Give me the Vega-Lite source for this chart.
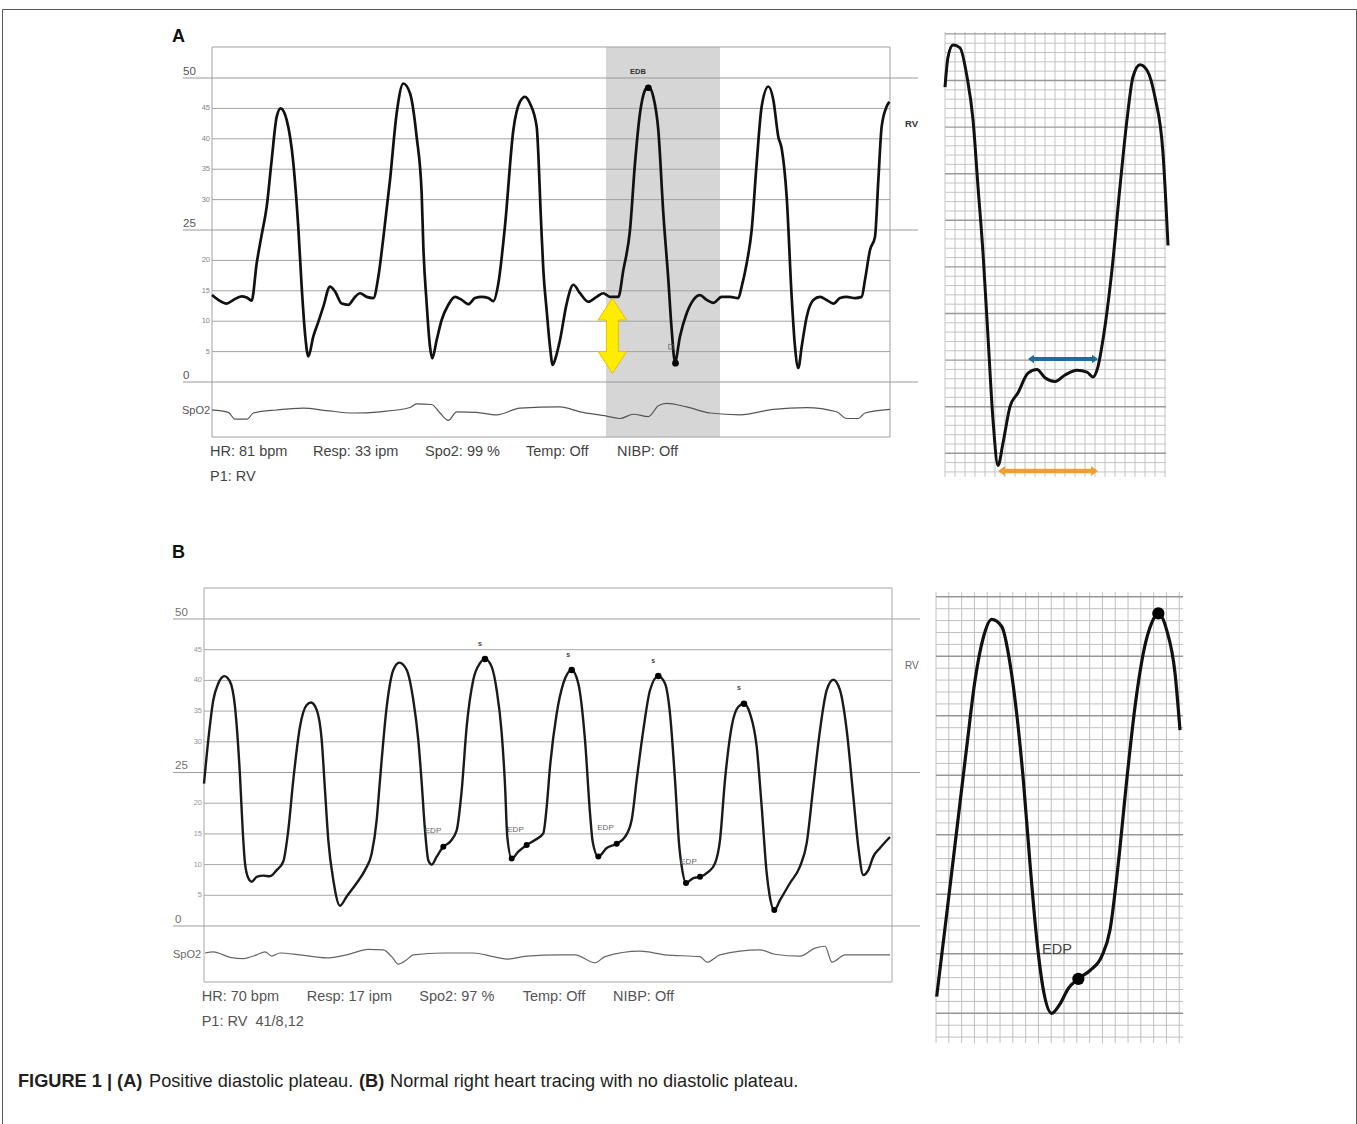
{
"$schema": "https://vega.github.io/schema/vega-lite/v6.json",
"width": 1357, "height": 1124,
"autosize": {"type": "fit", "contains": "padding"},
"padding": {"left": 2, "top": 9, "right": 1, "bottom": 0},
"background": "#ffffff",
"config": {"view": {"stroke": "#5a5a5a", "strokeWidth": 1}, "font": "Liberation Sans", "text": {"baseline": "middle"}},
"datasets": {
"a_minor": [{"mmHg":5,"start_ms":0,"end_ms":4068},{"mmHg":10,"start_ms":0,"end_ms":4068},{"mmHg":15,"start_ms":0,"end_ms":4068},{"mmHg":20,"start_ms":0,"end_ms":4068},{"mmHg":30,"start_ms":0,"end_ms":4068},{"mmHg":35,"start_ms":0,"end_ms":4068},{"mmHg":40,"start_ms":0,"end_ms":4068},{"mmHg":45,"start_ms":0,"end_ms":4068}],
"a_major": [{"mmHg":0,"start_ms":-174,"end_ms":4236},{"mmHg":25,"start_ms":-174,"end_ms":4236},{"mmHg":50,"start_ms":-174,"end_ms":4236}],
"a_frame": [{"start_ms":0,"end_ms":4068,"low_mmHg":-9.05,"high_mmHg":55.1}],
"a_band": [{"start_ms":2364,"end_ms":3048,"low_mmHg":-9.05,"high_mmHg":55.1}],
"a_trace": [
{"time_ms":0,"mmHg":14.3},{"time_ms":38,"mmHg":13.5},{"time_ms":88,"mmHg":12.9},{"time_ms":128,"mmHg":13.5},{"time_ms":178,"mmHg":14.1},{"time_ms":208,"mmHg":13.9},{"time_ms":238,"mmHg":13.4},{"time_ms":268,"mmHg":19.5},{"time_ms":298,"mmHg":24.2},{"time_ms":328,"mmHg":28.8},{"time_ms":358,"mmHg":36.5},{"time_ms":388,"mmHg":43.6},{"time_ms":412,"mmHg":45.0},{"time_ms":448,"mmHg":43.1},{"time_ms":488,"mmHg":36.0},{"time_ms":518,"mmHg":25.3},{"time_ms":538,"mmHg":15.7},{"time_ms":558,"mmHg":8.0},{"time_ms":578,"mmHg":4.2},{"time_ms":608,"mmHg":7.5},{"time_ms":638,"mmHg":9.9},{"time_ms":668,"mmHg":12.4},{"time_ms":708,"mmHg":15.7},{"time_ms":738,"mmHg":14.9},{"time_ms":778,"mmHg":12.9},{"time_ms":818,"mmHg":12.7},{"time_ms":858,"mmHg":14.0},{"time_ms":888,"mmHg":14.6},{"time_ms":928,"mmHg":14.0},{"time_ms":968,"mmHg":13.8},{"time_ms":998,"mmHg":17.3},{"time_ms":1028,"mmHg":23.7},{"time_ms":1068,"mmHg":33.2},{"time_ms":1108,"mmHg":44.2},{"time_ms":1148,"mmHg":49.1},{"time_ms":1188,"mmHg":47.5},{"time_ms":1228,"mmHg":40.3},{"time_ms":1258,"mmHg":31.0},{"time_ms":1268,"mmHg":22.3},{"time_ms":1288,"mmHg":12.9},{"time_ms":1308,"mmHg":5.8},{"time_ms":1322,"mmHg":3.9},{"time_ms":1348,"mmHg":6.9},{"time_ms":1378,"mmHg":10.2},{"time_ms":1418,"mmHg":12.7},{"time_ms":1458,"mmHg":14.0},{"time_ms":1498,"mmHg":13.5},{"time_ms":1538,"mmHg":12.8},{"time_ms":1578,"mmHg":13.8},{"time_ms":1618,"mmHg":14.0},{"time_ms":1658,"mmHg":13.8},{"time_ms":1688,"mmHg":13.3},{"time_ms":1718,"mmHg":16.2},{"time_ms":1758,"mmHg":25.7},{"time_ms":1808,"mmHg":41.4},{"time_ms":1848,"mmHg":46.1},{"time_ms":1878,"mmHg":46.9},{"time_ms":1908,"mmHg":45.8},{"time_ms":1948,"mmHg":42.0},{"time_ms":1974,"mmHg":26.6},{"time_ms":1988,"mmHg":18.4},{"time_ms":2008,"mmHg":11.8},{"time_ms":2028,"mmHg":5.8},{"time_ms":2044,"mmHg":2.8},{"time_ms":2061,"mmHg":3.9},{"time_ms":2088,"mmHg":6.9},{"time_ms":2128,"mmHg":12.9},{"time_ms":2168,"mmHg":16.0},{"time_ms":2208,"mmHg":14.6},{"time_ms":2258,"mmHg":13.2},{"time_ms":2308,"mmHg":14.0},{"time_ms":2348,"mmHg":14.6},{"time_ms":2388,"mmHg":14.0},{"time_ms":2438,"mmHg":14.0},{"time_ms":2468,"mmHg":18.4},{"time_ms":2508,"mmHg":25.0},{"time_ms":2538,"mmHg":36.0},{"time_ms":2568,"mmHg":44.2},{"time_ms":2598,"mmHg":48.0},{"time_ms":2618,"mmHg":48.6},{"time_ms":2648,"mmHg":46.9},{"time_ms":2678,"mmHg":41.4},{"time_ms":2708,"mmHg":27.7},{"time_ms":2738,"mmHg":16.8},{"time_ms":2758,"mmHg":8.6},{"time_ms":2778,"mmHg":3.3},{"time_ms":2808,"mmHg":7.5},{"time_ms":2848,"mmHg":11.3},{"time_ms":2888,"mmHg":13.5},{"time_ms":2928,"mmHg":14.3},{"time_ms":2968,"mmHg":13.5},{"time_ms":3008,"mmHg":13.0},{"time_ms":3058,"mmHg":14.0},{"time_ms":3108,"mmHg":14.0},{"time_ms":3158,"mmHg":13.8},{"time_ms":3178,"mmHg":15.7},{"time_ms":3208,"mmHg":19.5},{"time_ms":3238,"mmHg":25.0},{"time_ms":3268,"mmHg":36.0},{"time_ms":3298,"mmHg":45.3},{"time_ms":3338,"mmHg":48.6},{"time_ms":3368,"mmHg":46.4},{"time_ms":3398,"mmHg":40.3},{"time_ms":3418,"mmHg":38.4},{"time_ms":3448,"mmHg":30.5},{"time_ms":3478,"mmHg":14.0},{"time_ms":3498,"mmHg":5.8},{"time_ms":3518,"mmHg":2.3},{"time_ms":3538,"mmHg":5.8},{"time_ms":3568,"mmHg":10.7},{"time_ms":3608,"mmHg":13.5},{"time_ms":3648,"mmHg":14.0},{"time_ms":3688,"mmHg":13.5},{"time_ms":3728,"mmHg":12.9},{"time_ms":3768,"mmHg":13.8},{"time_ms":3808,"mmHg":14.0},{"time_ms":3858,"mmHg":13.8},{"time_ms":3898,"mmHg":14.0},{"time_ms":3918,"mmHg":16.8},{"time_ms":3948,"mmHg":21.7},{"time_ms":3978,"mmHg":23.9},{"time_ms":3998,"mmHg":33.2},{"time_ms":4018,"mmHg":42.0},{"time_ms":4048,"mmHg":45.3},{"time_ms":4064,"mmHg":46.1}
],
"a_pleth": [
{"time_ms":0,"pleth":-4.6},{"time_ms":98,"pleth":-5.0},{"time_ms":138,"pleth":-6.1},{"time_ms":212,"pleth":-6.1},{"time_ms":248,"pleth":-5.1},{"time_ms":388,"pleth":-4.6},{"time_ms":548,"pleth":-4.3},{"time_ms":688,"pleth":-4.7},{"time_ms":848,"pleth":-5.1},{"time_ms":1008,"pleth":-4.9},{"time_ms":1188,"pleth":-4.2},{"time_ms":1228,"pleth":-3.6},{"time_ms":1318,"pleth":-3.7},{"time_ms":1368,"pleth":-5.1},{"time_ms":1418,"pleth":-6.3},{"time_ms":1468,"pleth":-4.9},{"time_ms":1588,"pleth":-5.0},{"time_ms":1708,"pleth":-5.4},{"time_ms":1848,"pleth":-4.3},{"time_ms":2088,"pleth":-4.1},{"time_ms":2208,"pleth":-4.9},{"time_ms":2368,"pleth":-5.6},{"time_ms":2448,"pleth":-6.0},{"time_ms":2528,"pleth":-5.3},{"time_ms":2618,"pleth":-5.7},{"time_ms":2678,"pleth":-3.9},{"time_ms":2728,"pleth":-3.5},{"time_ms":2848,"pleth":-4.1},{"time_ms":2988,"pleth":-5.1},{"time_ms":3168,"pleth":-5.4},{"time_ms":3368,"pleth":-4.5},{"time_ms":3568,"pleth":-4.2},{"time_ms":3748,"pleth":-4.9},{"time_ms":3808,"pleth":-6.0},{"time_ms":3878,"pleth":-6.0},{"time_ms":3918,"pleth":-5.1},{"time_ms":4068,"pleth":-4.5}
],
"a_dots": [{"time_ms":2618,"mmHg":48.4},{"time_ms":2781,"mmHg":3.1}],
"a_status": [{"time_ms":-12,"mmHg":-11.46,"label":"HR: 81 bpm"},{"time_ms":606,"mmHg":-11.46,"label":"Resp: 33 ipm"},{"time_ms":1278,"mmHg":-11.46,"label":"Spo2: 99 %"},{"time_ms":1884,"mmHg":-11.46,"label":"Temp: Off"},{"time_ms":2430,"mmHg":-11.46,"label":"NIBP: Off"},{"time_ms":-12,"mmHg":-15.58,"label":"P1: RV"}],
"ar_trace": [
{"mm_x":0,"mm_y":44.3},{"mm_x":0.3,"mm_y":47.5},{"mm_x":0.8,"mm_y":48.8},{"mm_x":1.5,"mm_y":48.5},{"mm_x":2.2,"mm_y":45.4},{"mm_x":2.8,"mm_y":40.8},{"mm_x":3.3,"mm_y":33.6},{"mm_x":3.8,"mm_y":26.5},{"mm_x":4.3,"mm_y":17.5},{"mm_x":4.8,"mm_y":8.6},{"mm_x":5.3,"mm_y":3.7},{"mm_x":5.8,"mm_y":6.1},{"mm_x":6.5,"mm_y":10.0},{"mm_x":7.3,"mm_y":11.5},{"mm_x":8.3,"mm_y":13.6},{"mm_x":9.2,"mm_y":14.0},{"mm_x":10.0,"mm_y":13.1},{"mm_x":11.0,"mm_y":12.7},{"mm_x":12.0,"mm_y":13.4},{"mm_x":13.2,"mm_y":13.9},{"mm_x":14.2,"mm_y":13.7},{"mm_x":14.8,"mm_y":13.2},{"mm_x":15.3,"mm_y":14.3},{"mm_x":15.8,"mm_y":17.2},{"mm_x":16.7,"mm_y":24.7},{"mm_x":17.5,"mm_y":33.6},{"mm_x":18.2,"mm_y":40.8},{"mm_x":18.8,"mm_y":45.4},{"mm_x":19.5,"mm_y":46.7},{"mm_x":20.2,"mm_y":46.1},{"mm_x":21.0,"mm_y":43.2},{"mm_x":21.8,"mm_y":37.2},{"mm_x":22.3,"mm_y":27.3}
],
"ar_vlines": [{"mm_x":0,"low_mm":2.46,"high_mm":50.2},{"mm_x":1,"low_mm":2.46,"high_mm":50.2},{"mm_x":2,"low_mm":2.46,"high_mm":50.2},{"mm_x":3,"low_mm":2.46,"high_mm":50.2},{"mm_x":4,"low_mm":2.46,"high_mm":50.2},{"mm_x":5,"low_mm":2.46,"high_mm":50.2},{"mm_x":6,"low_mm":2.46,"high_mm":50.2},{"mm_x":7,"low_mm":2.46,"high_mm":50.2},{"mm_x":8,"low_mm":2.46,"high_mm":50.2},{"mm_x":9,"low_mm":2.46,"high_mm":50.2},{"mm_x":10,"low_mm":2.46,"high_mm":50.2},{"mm_x":11,"low_mm":2.46,"high_mm":50.2},{"mm_x":12,"low_mm":2.46,"high_mm":50.2},{"mm_x":13,"low_mm":2.46,"high_mm":50.2},{"mm_x":14,"low_mm":2.46,"high_mm":50.2},{"mm_x":15,"low_mm":2.46,"high_mm":50.2},{"mm_x":16,"low_mm":2.46,"high_mm":50.2},{"mm_x":17,"low_mm":2.46,"high_mm":50.2},{"mm_x":18,"low_mm":2.46,"high_mm":50.2},{"mm_x":19,"low_mm":2.46,"high_mm":50.2},{"mm_x":20,"low_mm":2.46,"high_mm":50.2},{"mm_x":21,"low_mm":2.46,"high_mm":50.2},{"mm_x":22,"low_mm":2.46,"high_mm":50.2}],
"ar_hlines": [{"mm_y":3,"left_mm":0,"right_mm":22.1},{"mm_y":4,"left_mm":0,"right_mm":22.1},{"mm_y":6,"left_mm":0,"right_mm":22.1},{"mm_y":7,"left_mm":0,"right_mm":22.1},{"mm_y":8,"left_mm":0,"right_mm":22.1},{"mm_y":9,"left_mm":0,"right_mm":22.1},{"mm_y":11,"left_mm":0,"right_mm":22.1},{"mm_y":12,"left_mm":0,"right_mm":22.1},{"mm_y":13,"left_mm":0,"right_mm":22.1},{"mm_y":14,"left_mm":0,"right_mm":22.1},{"mm_y":16,"left_mm":0,"right_mm":22.1},{"mm_y":17,"left_mm":0,"right_mm":22.1},{"mm_y":18,"left_mm":0,"right_mm":22.1},{"mm_y":19,"left_mm":0,"right_mm":22.1},{"mm_y":21,"left_mm":0,"right_mm":22.1},{"mm_y":22,"left_mm":0,"right_mm":22.1},{"mm_y":23,"left_mm":0,"right_mm":22.1},{"mm_y":24,"left_mm":0,"right_mm":22.1},{"mm_y":26,"left_mm":0,"right_mm":22.1},{"mm_y":27,"left_mm":0,"right_mm":22.1},{"mm_y":28,"left_mm":0,"right_mm":22.1},{"mm_y":29,"left_mm":0,"right_mm":22.1},{"mm_y":31,"left_mm":0,"right_mm":22.1},{"mm_y":32,"left_mm":0,"right_mm":22.1},{"mm_y":33,"left_mm":0,"right_mm":22.1},{"mm_y":34,"left_mm":0,"right_mm":22.1},{"mm_y":36,"left_mm":0,"right_mm":22.1},{"mm_y":37,"left_mm":0,"right_mm":22.1},{"mm_y":38,"left_mm":0,"right_mm":22.1},{"mm_y":39,"left_mm":0,"right_mm":22.1},{"mm_y":41,"left_mm":0,"right_mm":22.1},{"mm_y":42,"left_mm":0,"right_mm":22.1},{"mm_y":43,"left_mm":0,"right_mm":22.1},{"mm_y":44,"left_mm":0,"right_mm":22.1},{"mm_y":46,"left_mm":0,"right_mm":22.1},{"mm_y":47,"left_mm":0,"right_mm":22.1},{"mm_y":48,"left_mm":0,"right_mm":22.1},{"mm_y":49,"left_mm":0,"right_mm":22.1}],
"ar_hmajor": [{"mm_y":5,"left_mm":0,"right_mm":22.1},{"mm_y":10,"left_mm":0,"right_mm":22.1},{"mm_y":15,"left_mm":0,"right_mm":22.1},{"mm_y":20,"left_mm":0,"right_mm":22.1},{"mm_y":25,"left_mm":0,"right_mm":22.1},{"mm_y":30,"left_mm":0,"right_mm":22.1},{"mm_y":35,"left_mm":0,"right_mm":22.1},{"mm_y":40,"left_mm":0,"right_mm":22.1},{"mm_y":45,"left_mm":0,"right_mm":22.1},{"mm_y":50,"left_mm":0,"right_mm":22.1}],
"b_minor": [{"mmHg":5,"start_ms":0,"end_ms":6880},{"mmHg":10,"start_ms":0,"end_ms":6880},{"mmHg":15,"start_ms":0,"end_ms":6880},{"mmHg":20,"start_ms":0,"end_ms":6880},{"mmHg":30,"start_ms":0,"end_ms":6880},{"mmHg":35,"start_ms":0,"end_ms":6880},{"mmHg":40,"start_ms":0,"end_ms":6880},{"mmHg":45,"start_ms":0,"end_ms":6880}],
"b_major": [{"mmHg":0,"start_ms":-310,"end_ms":7160},{"mmHg":25,"start_ms":-310,"end_ms":7160},{"mmHg":50,"start_ms":-310,"end_ms":7160}],
"b_frame": [{"start_ms":0,"end_ms":6880,"low_mmHg":-9.12,"high_mmHg":55.05}],
"b_trace": [
{"time_ms":0,"mmHg":23.2},{"time_ms":43,"mmHg":30.3},{"time_ms":93,"mmHg":36.8},{"time_ms":143,"mmHg":39.5},{"time_ms":203,"mmHg":40.7},{"time_ms":260,"mmHg":39.8},{"time_ms":310,"mmHg":35.7},{"time_ms":360,"mmHg":24.4},{"time_ms":387,"mmHg":15.6},{"time_ms":410,"mmHg":10.2},{"time_ms":443,"mmHg":7.8},{"time_ms":477,"mmHg":7.2},{"time_ms":527,"mmHg":8.0},{"time_ms":593,"mmHg":8.2},{"time_ms":660,"mmHg":8.1},{"time_ms":727,"mmHg":9.1},{"time_ms":793,"mmHg":10.5},{"time_ms":843,"mmHg":15.6},{"time_ms":893,"mmHg":23.8},{"time_ms":960,"mmHg":32.5},{"time_ms":1027,"mmHg":36.0},{"time_ms":1070,"mmHg":36.4},{"time_ms":1127,"mmHg":35.2},{"time_ms":1177,"mmHg":30.3},{"time_ms":1210,"mmHg":22.1},{"time_ms":1243,"mmHg":14.0},{"time_ms":1293,"mmHg":7.5},{"time_ms":1360,"mmHg":3.3},{"time_ms":1427,"mmHg":4.8},{"time_ms":1527,"mmHg":7.0},{"time_ms":1610,"mmHg":9.1},{"time_ms":1677,"mmHg":11.8},{"time_ms":1727,"mmHg":17.3},{"time_ms":1760,"mmHg":23.8},{"time_ms":1827,"mmHg":35.7},{"time_ms":1893,"mmHg":41.7},{"time_ms":1953,"mmHg":42.9},{"time_ms":2027,"mmHg":41.7},{"time_ms":2093,"mmHg":36.8},{"time_ms":2143,"mmHg":30.3},{"time_ms":2177,"mmHg":23.3},{"time_ms":2210,"mmHg":15.6},{"time_ms":2243,"mmHg":10.7},{"time_ms":2277,"mmHg":10.0},{"time_ms":2327,"mmHg":11.3},{"time_ms":2393,"mmHg":12.9},{"time_ms":2460,"mmHg":13.7},{"time_ms":2527,"mmHg":15.6},{"time_ms":2577,"mmHg":22.1},{"time_ms":2627,"mmHg":32.5},{"time_ms":2693,"mmHg":40.1},{"time_ms":2760,"mmHg":42.8},{"time_ms":2810,"mmHg":43.5},{"time_ms":2877,"mmHg":42.2},{"time_ms":2927,"mmHg":38.4},{"time_ms":2977,"mmHg":31.4},{"time_ms":3010,"mmHg":23.0},{"time_ms":3033,"mmHg":14.5},{"time_ms":3077,"mmHg":11.0},{"time_ms":3143,"mmHg":12.1},{"time_ms":3227,"mmHg":13.2},{"time_ms":3310,"mmHg":14.0},{"time_ms":3393,"mmHg":15.1},{"time_ms":3427,"mmHg":19.4},{"time_ms":3460,"mmHg":25.9},{"time_ms":3527,"mmHg":34.6},{"time_ms":3593,"mmHg":39.5},{"time_ms":3677,"mmHg":41.7},{"time_ms":3743,"mmHg":39.5},{"time_ms":3810,"mmHg":30.3},{"time_ms":3860,"mmHg":18.4},{"time_ms":3887,"mmHg":13.7},{"time_ms":3943,"mmHg":11.3},{"time_ms":4027,"mmHg":12.7},{"time_ms":4127,"mmHg":13.4},{"time_ms":4210,"mmHg":14.5},{"time_ms":4277,"mmHg":17.3},{"time_ms":4327,"mmHg":23.8},{"time_ms":4393,"mmHg":31.9},{"time_ms":4460,"mmHg":38.4},{"time_ms":4543,"mmHg":40.7},{"time_ms":4610,"mmHg":39.5},{"time_ms":4660,"mmHg":34.6},{"time_ms":4710,"mmHg":23.8},{"time_ms":4753,"mmHg":12.9},{"time_ms":4777,"mmHg":9.7},{"time_ms":4820,"mmHg":7.0},{"time_ms":4893,"mmHg":7.8},{"time_ms":4960,"mmHg":8.0},{"time_ms":5043,"mmHg":8.8},{"time_ms":5110,"mmHg":10.2},{"time_ms":5160,"mmHg":14.0},{"time_ms":5210,"mmHg":23.8},{"time_ms":5277,"mmHg":32.5},{"time_ms":5343,"mmHg":35.7},{"time_ms":5400,"mmHg":36.2},{"time_ms":5460,"mmHg":34.6},{"time_ms":5527,"mmHg":29.2},{"time_ms":5577,"mmHg":19.4},{"time_ms":5627,"mmHg":8.6},{"time_ms":5653,"mmHg":5.3},{"time_ms":5703,"mmHg":2.6},{"time_ms":5760,"mmHg":4.2},{"time_ms":5860,"mmHg":7.0},{"time_ms":5960,"mmHg":9.7},{"time_ms":6027,"mmHg":13.5},{"time_ms":6093,"mmHg":22.7},{"time_ms":6160,"mmHg":31.9},{"time_ms":6227,"mmHg":38.4},{"time_ms":6293,"mmHg":40.1},{"time_ms":6360,"mmHg":38.4},{"time_ms":6427,"mmHg":31.9},{"time_ms":6493,"mmHg":21.1},{"time_ms":6543,"mmHg":12.9},{"time_ms":6593,"mmHg":8.3},{"time_ms":6643,"mmHg":9.1},{"time_ms":6693,"mmHg":11.3},{"time_ms":6760,"mmHg":12.7},{"time_ms":6860,"mmHg":14.5}
],
"b_pleth": [
{"time_ms":10,"pleth":-4.4},{"time_ms":93,"pleth":-4.2},{"time_ms":260,"pleth":-5.1},{"time_ms":393,"pleth":-5.3},{"time_ms":527,"pleth":-4.7},{"time_ms":610,"pleth":-4.2},{"time_ms":677,"pleth":-4.9},{"time_ms":760,"pleth":-4.4},{"time_ms":960,"pleth":-4.7},{"time_ms":1227,"pleth":-5.2},{"time_ms":1427,"pleth":-4.7},{"time_ms":1643,"pleth":-3.8},{"time_ms":1793,"pleth":-3.9},{"time_ms":1877,"pleth":-5.0},{"time_ms":1943,"pleth":-6.2},{"time_ms":2027,"pleth":-5.5},{"time_ms":2093,"pleth":-4.7},{"time_ms":2393,"pleth":-4.4},{"time_ms":2693,"pleth":-4.4},{"time_ms":2893,"pleth":-5.0},{"time_ms":3027,"pleth":-5.4},{"time_ms":3227,"pleth":-4.9},{"time_ms":3560,"pleth":-4.7},{"time_ms":3710,"pleth":-4.7},{"time_ms":3910,"pleth":-6.0},{"time_ms":4010,"pleth":-5.0},{"time_ms":4360,"pleth":-4.1},{"time_ms":4610,"pleth":-4.7},{"time_ms":4960,"pleth":-5.0},{"time_ms":5030,"pleth":-5.9},{"time_ms":5160,"pleth":-4.7},{"time_ms":5560,"pleth":-3.9},{"time_ms":5710,"pleth":-4.6},{"time_ms":5960,"pleth":-4.9},{"time_ms":6110,"pleth":-3.6},{"time_ms":6210,"pleth":-3.3},{"time_ms":6280,"pleth":-5.9},{"time_ms":6410,"pleth":-4.7},{"time_ms":6860,"pleth":-4.7}
],
"b_peaks": [{"time_ms":2810,"mmHg":43.5},{"time_ms":3677,"mmHg":41.7},{"time_ms":4543,"mmHg":40.7},{"time_ms":5400,"mmHg":36.2}],
"b_edp_dots": [{"time_ms":2393,"mmHg":12.9},{"time_ms":3077,"mmHg":11.0},{"time_ms":3227,"mmHg":13.2},{"time_ms":3943,"mmHg":11.3},{"time_ms":4127,"mmHg":13.4},{"time_ms":4820,"mmHg":7.0},{"time_ms":4960,"mmHg":8.0},{"time_ms":5703,"mmHg":2.6}],
"b_s_labels": [{"time_ms":2760,"mmHg":46.0,"label":"s"},{"time_ms":3643,"mmHg":44.1,"label":"s"},{"time_ms":4493,"mmHg":43.2,"label":"s"},{"time_ms":5350,"mmHg":38.7,"label":"s"}],
"b_edp_labels": [{"time_ms":2290,"mmHg":15.5,"label":"EDP"},{"time_ms":3115,"mmHg":15.6,"label":"EDP"},{"time_ms":4015,"mmHg":15.9,"label":"EDP"},{"time_ms":4845,"mmHg":10.4,"label":"EDP"}],
"b_status": [{"time_ms":-23,"mmHg":-11.51,"label":"HR: 70 bpm"},{"time_ms":1027,"mmHg":-11.51,"label":"Resp: 17 ipm"},{"time_ms":2153,"mmHg":-11.51,"label":"Spo2: 97 %"},{"time_ms":3187,"mmHg":-11.51,"label":"Temp: Off"},{"time_ms":4090,"mmHg":-11.51,"label":"NIBP: Off"},{"time_ms":-23,"mmHg":-15.59,"label":"P1: RV \u00a041/8,12"}],
"caption_bold": [{"time_ms":-1860,"mmHg":-25.41,"label":"FIGURE 1 | (A)"},{"time_ms":1550,"mmHg":-25.41,"label":"(B)"}],
"caption_regular": [{"time_ms":-550,"mmHg":-25.41,"label":"Positive diastolic plateau."},{"time_ms":1860,"mmHg":-25.41,"label":"Normal right heart tracing with no diastolic plateau."}],
"br_trace": [
{"mm_x":0.05,"mm_y":6.4},{"mm_x":0.84,"mm_y":13.4},{"mm_x":1.62,"mm_y":20.4},{"mm_x":2.4,"mm_y":27.4},{"mm_x":3.05,"mm_y":33.0},{"mm_x":3.7,"mm_y":36.6},{"mm_x":4.35,"mm_y":38.1},{"mm_x":5.13,"mm_y":37.5},{"mm_x":5.78,"mm_y":34.4},{"mm_x":6.3,"mm_y":30.2},{"mm_x":6.82,"mm_y":24.6},{"mm_x":7.34,"mm_y":17.6},{"mm_x":7.87,"mm_y":11.2},{"mm_x":8.38,"mm_y":7.0},{"mm_x":9.04,"mm_y":5.0},{"mm_x":9.69,"mm_y":5.8},{"mm_x":10.34,"mm_y":7.1},{"mm_x":11.12,"mm_y":7.9},{"mm_x":12.03,"mm_y":8.6},{"mm_x":12.95,"mm_y":9.8},{"mm_x":13.59,"mm_y":12.0},{"mm_x":14.24,"mm_y":17.6},{"mm_x":14.9,"mm_y":24.6},{"mm_x":15.55,"mm_y":30.8},{"mm_x":16.2,"mm_y":35.3},{"mm_x":16.85,"mm_y":37.8},{"mm_x":17.37,"mm_y":38.6},{"mm_x":18.02,"mm_y":37.2},{"mm_x":18.67,"mm_y":33.6},{"mm_x":19.06,"mm_y":28.8}
],
"br_dots": [{"mm_x":11.12,"mm_y":7.9},{"mm_x":17.37,"mm_y":38.6}],
"br_vlines": [{"mm_x":0,"low_mm":2.5,"high_mm":40.4},{"mm_x":1,"low_mm":2.5,"high_mm":40.4},{"mm_x":2,"low_mm":2.5,"high_mm":40.4},{"mm_x":3,"low_mm":2.5,"high_mm":40.4},{"mm_x":4,"low_mm":2.5,"high_mm":40.4},{"mm_x":5,"low_mm":2.5,"high_mm":40.4},{"mm_x":6,"low_mm":2.5,"high_mm":40.4},{"mm_x":7,"low_mm":2.5,"high_mm":40.4},{"mm_x":8,"low_mm":2.5,"high_mm":40.4},{"mm_x":9,"low_mm":2.5,"high_mm":40.4},{"mm_x":10,"low_mm":2.5,"high_mm":40.4},{"mm_x":11,"low_mm":2.5,"high_mm":40.4},{"mm_x":12,"low_mm":2.5,"high_mm":40.4},{"mm_x":13,"low_mm":2.5,"high_mm":40.4},{"mm_x":14,"low_mm":2.5,"high_mm":40.4},{"mm_x":15,"low_mm":2.5,"high_mm":40.4},{"mm_x":16,"low_mm":2.5,"high_mm":40.4},{"mm_x":17,"low_mm":2.5,"high_mm":40.4},{"mm_x":18,"low_mm":2.5,"high_mm":40.4},{"mm_x":19,"low_mm":2.5,"high_mm":40.4}],
"br_hlines": [{"mm_y":3,"left_mm":0,"right_mm":19.3},{"mm_y":4,"left_mm":0,"right_mm":19.3},{"mm_y":6,"left_mm":0,"right_mm":19.3},{"mm_y":7,"left_mm":0,"right_mm":19.3},{"mm_y":8,"left_mm":0,"right_mm":19.3},{"mm_y":9,"left_mm":0,"right_mm":19.3},{"mm_y":11,"left_mm":0,"right_mm":19.3},{"mm_y":12,"left_mm":0,"right_mm":19.3},{"mm_y":13,"left_mm":0,"right_mm":19.3},{"mm_y":14,"left_mm":0,"right_mm":19.3},{"mm_y":16,"left_mm":0,"right_mm":19.3},{"mm_y":17,"left_mm":0,"right_mm":19.3},{"mm_y":18,"left_mm":0,"right_mm":19.3},{"mm_y":19,"left_mm":0,"right_mm":19.3},{"mm_y":21,"left_mm":0,"right_mm":19.3},{"mm_y":22,"left_mm":0,"right_mm":19.3},{"mm_y":23,"left_mm":0,"right_mm":19.3},{"mm_y":24,"left_mm":0,"right_mm":19.3},{"mm_y":26,"left_mm":0,"right_mm":19.3},{"mm_y":27,"left_mm":0,"right_mm":19.3},{"mm_y":28,"left_mm":0,"right_mm":19.3},{"mm_y":29,"left_mm":0,"right_mm":19.3},{"mm_y":31,"left_mm":0,"right_mm":19.3},{"mm_y":32,"left_mm":0,"right_mm":19.3},{"mm_y":33,"left_mm":0,"right_mm":19.3},{"mm_y":34,"left_mm":0,"right_mm":19.3},{"mm_y":36,"left_mm":0,"right_mm":19.3},{"mm_y":37,"left_mm":0,"right_mm":19.3},{"mm_y":38,"left_mm":0,"right_mm":19.3},{"mm_y":39,"left_mm":0,"right_mm":19.3}],
"br_hmajor": [{"mm_y":5,"left_mm":0,"right_mm":19.3},{"mm_y":10,"left_mm":0,"right_mm":19.3},{"mm_y":15,"left_mm":0,"right_mm":19.3},{"mm_y":20,"left_mm":0,"right_mm":19.3},{"mm_y":25,"left_mm":0,"right_mm":19.3},{"mm_y":30,"left_mm":0,"right_mm":19.3},{"mm_y":35,"left_mm":0,"right_mm":19.3},{"mm_y":40,"left_mm":0,"right_mm":19.3}]
},
"resolve": {"scale": {"x": "independent", "y": "independent"}},
"layer": [
{
"encoding": {
 "x": {"field": "time_ms", "type": "quantitative", "scale": {"domain": [-1260, 6864], "nice": false, "zero": false}, "axis": null},
 "y": {"field": "mmHg", "type": "quantitative", "scale": {"domain": [-122.04, 61.35], "nice": false, "zero": false}, "axis": null}
},
"layer": [
 {"data": {"name": "a_band"}, "mark": {"type": "rect", "color": "#d6d6d6"},
  "encoding": {"x": {"field": "start_ms", "type": "quantitative"}, "x2": {"field": "end_ms"}, "y": {"field": "low_mmHg", "type": "quantitative"}, "y2": {"field": "high_mmHg"}}},
 {"data": {"name": "a_minor"}, "mark": {"type": "rule", "color": "#a3a3a3", "strokeWidth": 1},
  "encoding": {"x": {"field": "start_ms", "type": "quantitative"}, "x2": {"field": "end_ms"}}},
 {"data": {"name": "a_major"}, "mark": {"type": "rule", "color": "#9a9a9a", "strokeWidth": 1},
  "encoding": {"x": {"field": "start_ms", "type": "quantitative"}, "x2": {"field": "end_ms"}}},
 {"data": {"name": "a_frame"}, "mark": {"type": "rect", "filled": false, "color": "#a0a0a0", "strokeWidth": 1},
  "encoding": {"x": {"field": "start_ms", "type": "quantitative"}, "x2": {"field": "end_ms"}, "y": {"field": "low_mmHg", "type": "quantitative"}, "y2": {"field": "high_mmHg"}}},
 {"data": {"name": "a_minor"}, "mark": {"type": "text", "align": "right", "dx": -2, "fontSize": 7.5, "color": "#858585"},
  "encoding": {"x": {"field": "start_ms", "type": "quantitative"}, "text": {"field": "mmHg", "type": "quantitative"}}},
 {"data": {"name": "a_major"}, "mark": {"type": "text", "align": "left", "fontSize": 11.5, "color": "#555555", "dy": -6},
  "encoding": {"x": {"field": "start_ms", "type": "quantitative"}, "text": {"field": "mmHg", "type": "quantitative"}}},
 {"data": {"name": "a_pleth"}, "mark": {"type": "line", "color": "#555555", "strokeWidth": 1.2, "interpolate": "monotone"},
  "encoding": {"y": {"field": "pleth", "type": "quantitative"}}},
 {"data": {"name": "a_trace"}, "mark": {"type": "line", "color": "#111111", "strokeWidth": 2.7, "interpolate": "monotone"}},
 {"data": {"name": "a_dots"}, "mark": {"type": "circle", "color": "#000000", "size": 45, "opacity": 1}},
 {"data": {"values": [{"time_ms": 2754, "mmHg": 5.8}]}, "mark": {"type": "square", "filled": false, "color": "#555555", "size": 22, "strokeWidth": 1}},
 {"data": {"values": [{"time_ms": 2402, "mmHg": 7.6}]}, "mark": {"type": "point", "shape": "M0,-1L0.38,-0.42L0.16,-0.42L0.16,0.42L0.38,0.42L0,1L-0.38,0.42L-0.16,0.42L-0.16,-0.42L-0.38,-0.42Z", "size": 5625, "filled": true, "fill": "#ffec00", "stroke": "#e6c200", "strokeWidth": 1, "opacity": 1}},
 {"data": {"values": [{"time_ms": 2556, "mmHg": 51.0, "label": "EDB"}]}, "mark": {"type": "text", "align": "center", "fontSize": 7.5, "fontWeight": "bold", "color": "#333333"},
  "encoding": {"text": {"field": "label"}}},
 {"data": {"values": [{"time_ms": -180, "mmHg": -4.8, "label": "SpO2"}]}, "mark": {"type": "text", "align": "left", "fontSize": 11, "color": "#555555"},
  "encoding": {"text": {"field": "label"}}},
 {"data": {"values": [{"time_ms": 4158, "mmHg": 42.4, "label": "RV"}]}, "mark": {"type": "text", "align": "left", "fontSize": 9.5, "fontWeight": "bold", "color": "#333333"},
  "encoding": {"text": {"field": "label"}}},
 {"data": {"values": [{"time_ms": -240, "mmHg": 56.7, "label": "A"}]}, "mark": {"type": "text", "align": "left", "fontSize": 18, "fontWeight": "bold", "color": "#111111"},
  "encoding": {"text": {"field": "label"}}},
 {"data": {"name": "a_status"}, "mark": {"type": "text", "align": "left", "fontSize": 14.5, "color": "#444444"},
  "encoding": {"text": {"field": "label"}}}
]
},
{
"encoding": {
 "x": {"field": "mm_x", "type": "quantitative", "scale": {"domain": [-94.3, 41.1], "nice": false, "zero": false}, "axis": null},
 "y": {"field": "mm_y", "type": "quantitative", "scale": {"domain": [-66.96, 52.67], "nice": false, "zero": false}, "axis": null}
},
"layer": [
 {"data": {"name": "ar_vlines"}, "mark": {"type": "rule", "color": "#c4c4c4", "strokeWidth": 1},
  "encoding": {"y": {"field": "low_mm", "type": "quantitative"}, "y2": {"field": "high_mm"}}},
 {"data": {"name": "ar_hlines"}, "mark": {"type": "rule", "color": "#c4c4c4", "strokeWidth": 1},
  "encoding": {"x": {"field": "left_mm", "type": "quantitative"}, "x2": {"field": "right_mm"}}},
 {"data": {"name": "ar_hmajor"}, "mark": {"type": "rule", "color": "#999999", "strokeWidth": 1.4},
  "encoding": {"x": {"field": "left_mm", "type": "quantitative"}, "x2": {"field": "right_mm"}}},
 {"data": {"name": "ar_trace"}, "mark": {"type": "line", "color": "#111111", "strokeWidth": 3, "interpolate": "monotone"}},
 {"data": {"values": [{"mm_x": 11.8, "mm_y": 15.12}]}, "mark": {"type": "point", "shape": "M-1,0L-0.83,-0.12L-0.83,-0.055L0.83,-0.055L0.83,-0.12L1,0L0.83,0.12L0.83,0.055L-0.83,0.055L-0.83,0.12Z", "size": 4900, "filled": true, "color": "#1f6b99", "strokeWidth": 0, "opacity": 1}},
 {"data": {"values": [{"mm_x": 10.3, "mm_y": 3.1}]}, "mark": {"type": "point", "shape": "M-1,0L-0.86,-0.1L-0.86,-0.044L0.86,-0.044L0.86,-0.1L1,0L0.86,0.1L0.86,0.044L-0.86,0.044L-0.86,0.1Z", "size": 10000, "filled": true, "color": "#f0a030", "strokeWidth": 0, "opacity": 1}}
]
},
{
"encoding": {
 "x": {"field": "time_ms", "type": "quantitative", "scale": {"domain": [-2020, 11520], "nice": false, "zero": false}, "axis": null},
 "y": {"field": "mmHg", "type": "quantitative", "scale": {"domain": [-32.25, 149.35], "nice": false, "zero": false}, "axis": null}
},
"layer": [
 {"data": {"name": "b_minor"}, "mark": {"type": "rule", "color": "#a8a8a8", "strokeWidth": 1},
  "encoding": {"x": {"field": "start_ms", "type": "quantitative"}, "x2": {"field": "end_ms"}}},
 {"data": {"name": "b_major"}, "mark": {"type": "rule", "color": "#9e9e9e", "strokeWidth": 1},
  "encoding": {"x": {"field": "start_ms", "type": "quantitative"}, "x2": {"field": "end_ms"}}},
 {"data": {"name": "b_frame"}, "mark": {"type": "rect", "filled": false, "color": "#a8a8a8", "strokeWidth": 1},
  "encoding": {"x": {"field": "start_ms", "type": "quantitative"}, "x2": {"field": "end_ms"}, "y": {"field": "low_mmHg", "type": "quantitative"}, "y2": {"field": "high_mmHg"}}},
 {"data": {"name": "b_minor"}, "mark": {"type": "text", "align": "right", "dx": -2, "fontSize": 7.5, "color": "#969696"},
  "encoding": {"x": {"field": "start_ms", "type": "quantitative"}, "text": {"field": "mmHg", "type": "quantitative"}}},
 {"data": {"name": "b_major"}, "mark": {"type": "text", "align": "left", "dx": 2, "fontSize": 11.5, "color": "#707070", "dy": -6},
  "encoding": {"x": {"field": "start_ms", "type": "quantitative"}, "text": {"field": "mmHg", "type": "quantitative"}}},
 {"data": {"name": "b_pleth"}, "mark": {"type": "line", "color": "#666666", "strokeWidth": 1.2, "interpolate": "monotone"},
  "encoding": {"y": {"field": "pleth", "type": "quantitative"}}},
 {"data": {"name": "b_trace"}, "mark": {"type": "line", "color": "#1a1a1a", "strokeWidth": 2.4, "interpolate": "monotone"}},
 {"data": {"name": "b_peaks"}, "mark": {"type": "circle", "color": "#000000", "size": 42, "opacity": 1}},
 {"data": {"name": "b_edp_dots"}, "mark": {"type": "circle", "color": "#000000", "size": 36, "opacity": 1}},
 {"data": {"name": "b_s_labels"}, "mark": {"type": "text", "align": "center", "fontSize": 7, "fontWeight": "bold", "color": "#444444"},
  "encoding": {"text": {"field": "label"}}},
 {"data": {"name": "b_edp_labels"}, "mark": {"type": "text", "align": "center", "fontSize": 8, "color": "#666666"},
  "encoding": {"text": {"field": "label"}}},
 {"data": {"values": [{"time_ms": -310, "mmHg": -4.7, "label": "SpO2"}]}, "mark": {"type": "text", "align": "left", "fontSize": 11, "color": "#6a6a6a"},
  "encoding": {"text": {"field": "label"}}},
 {"data": {"values": [{"time_ms": 7010, "mmHg": 42.3, "label": "RV"}]}, "mark": {"type": "text", "align": "left", "fontSize": 10, "color": "#666666"},
  "encoding": {"text": {"field": "label"}}},
 {"data": {"values": [{"time_ms": -320, "mmHg": 60.7, "label": "B"}]}, "mark": {"type": "text", "align": "left", "fontSize": 18, "fontWeight": "bold", "color": "#111111"},
  "encoding": {"text": {"field": "label"}}},
 {"data": {"name": "b_status"}, "mark": {"type": "text", "align": "left", "fontSize": 14.5, "color": "#555555"},
  "encoding": {"text": {"field": "label"}}},
 {"data": {"name": "caption_bold"}, "mark": {"type": "text", "align": "left", "fontSize": 18.2, "fontWeight": "bold", "color": "#231f20"},
  "encoding": {"text": {"field": "label"}}},
 {"data": {"name": "caption_regular"}, "mark": {"type": "text", "align": "left", "fontSize": 18.2, "color": "#231f20"},
  "encoding": {"text": {"field": "label"}}}
]
},
{
"encoding": {
 "x": {"field": "mm_x", "type": "quantitative", "scale": {"domain": [-72.97, 32.81], "nice": false, "zero": false}, "axis": null},
 "y": {"field": "mm_y", "type": "quantitative", "scale": {"domain": [-4.3, 89.39], "nice": false, "zero": false}, "axis": null}
},
"layer": [
 {"data": {"name": "br_vlines"}, "mark": {"type": "rule", "color": "#c0c0c0", "strokeWidth": 1},
  "encoding": {"y": {"field": "low_mm", "type": "quantitative"}, "y2": {"field": "high_mm"}}},
 {"data": {"name": "br_hlines"}, "mark": {"type": "rule", "color": "#c0c0c0", "strokeWidth": 1},
  "encoding": {"x": {"field": "left_mm", "type": "quantitative"}, "x2": {"field": "right_mm"}}},
 {"data": {"name": "br_hmajor"}, "mark": {"type": "rule", "color": "#959595", "strokeWidth": 1.5},
  "encoding": {"x": {"field": "left_mm", "type": "quantitative"}, "x2": {"field": "right_mm"}}},
 {"data": {"name": "br_trace"}, "mark": {"type": "line", "color": "#111111", "strokeWidth": 3.2, "interpolate": "monotone"}},
 {"data": {"name": "br_dots"}, "mark": {"type": "circle", "color": "#000000", "size": 150, "opacity": 1}},
 {"data": {"values": [{"mm_x": 9.45, "mm_y": 10.3, "label": "EDP"}]}, "mark": {"type": "text", "align": "center", "fontSize": 14.5, "color": "#444444"},
  "encoding": {"text": {"field": "label"}}}
]
}
]
}
